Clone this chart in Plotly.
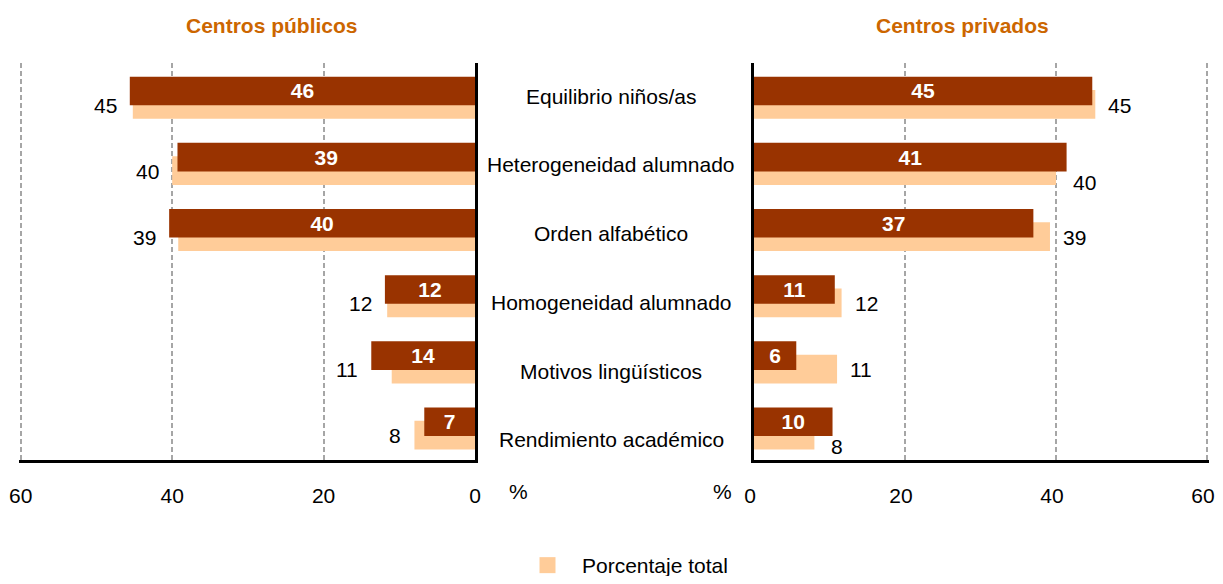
import plotly.graph_objects as go

categories = ["Equilibrio niños/as", "Heterogeneidad alumnado", "Orden alfabético",
              "Homogeneidad alumnado", "Motivos lingüísticos", "Rendimiento académico"]
publicos = [45.6, 39.3, 40.4, 11.9, 13.7, 6.7]
privados = [44.8, 41.4, 37.0, 10.7, 5.6, 10.4]
total = [45.2, 40.0, 39.2, 11.6, 11.0, 8.0]
x_ticks = [0, 20, 40, 60]

DARK = "#993300"
LIGHT = "#FFCC99"
ORANGE = "#CC6600"
FONT = "Liberation Sans, Arial, sans-serif"
FS = 21
# the page body has an 8px margin; size the figure so the page never overflows the window
OFF = 8
W, H = 1223 - 2 * OFF, 584 - 2 * OFF


def px(x):
    return (x - OFF) / W


def py(y):
    return 1 - (y - OFF) / H


fig = go.Figure()


def add_panel(values, xa, ya, name_dark):
    # light (total) bars first, dark on top
    fig.add_trace(go.Bar(
        y=categories, x=total, orientation="h", xaxis=xa, yaxis=ya,
        marker=dict(color=LIGHT, line=dict(width=0)),
        offset=-0.092, width=0.434, showlegend=False,
        name="Porcentaje total"))
    fig.add_trace(go.Bar(
        y=categories, x=values, orientation="h", xaxis=xa, yaxis=ya,
        marker=dict(color=DARK, line=dict(width=0)),
        offset=-0.293, width=0.432, showlegend=False,
        texttemplate="<b>%{x:.0f}</b>", textposition="inside", textangle=0,
        insidetextanchor="middle", constraintext="none",
        textfont=dict(color="white", size=FS, family=FONT),
        name=name_dark))


add_panel(publicos, "x", "y", "Centros públicos")
add_panel(privados, "x2", "y2", "Centros privados")

# legend entry
fig.add_trace(go.Scatter(x=[None], y=[None], mode="markers", name="Porcentaje total",
                         marker=dict(symbol="square", size=20, color=LIGHT),
                         showlegend=True, xaxis="x", yaxis="y"))

xcommon = dict(tickvals=x_ticks, ticktext=[str(v) for v in x_ticks], showgrid=True,
               gridcolor="#A6A6A6", gridwidth=1.5, griddash="5px,3px",
               zeroline=False, showline=True, linecolor="black", linewidth=2.5,
               ticks="", ticklabelstandoff=15,
               tickfont=dict(size=FS, family=FONT, color="black"), fixedrange=True)
ycommon = dict(type="category", categoryorder="array", categoryarray=categories,
               range=[5.5, -0.5], showgrid=False, showticklabels=False, ticks="",
               zeroline=False, showline=True, linecolor="black", linewidth=2.5,
               domain=[py(460), py(63)], fixedrange=True)

fig.update_layout(
    width=W, height=H,
    margin=dict(l=0, r=0, t=0, b=0, autoexpand=False),
    paper_bgcolor="white", plot_bgcolor="white",
    barmode="overlay",
    font=dict(family=FONT, size=FS, color="black"),
    xaxis=dict(domain=[px(18.5), px(475)], range=[60.3, 0], anchor="y", **xcommon),
    xaxis2=dict(domain=[px(754), px(1209.3)], range=[0, 60.3], anchor="y2",
                ticklabelshift=-4, **xcommon),
    yaxis=dict(anchor="x", side="right", **ycommon),
    yaxis2=dict(anchor="x2", side="left", **ycommon),
    legend=dict(x=px(513), y=py(545), xanchor="left", yanchor="top",
                font=dict(size=FS, family=FONT, color="black"), itemwidth=59,
                bgcolor="rgba(0,0,0,0)", itemsizing="trace"),
    showlegend=True,
)

ann = []
txt = dict(showarrow=False, xanchor="center", yanchor="middle")
# panel titles
ann.append(dict(text="<b>Centros públicos</b>", x=px(271.5), y=py(26),
                xref="paper", yref="paper", font=dict(color=ORANGE, size=FS, family=FONT), **txt))
ann.append(dict(text="<b>Centros privados</b>", x=px(962.5), y=py(26),
                xref="paper", yref="paper", font=dict(color=ORANGE, size=FS, family=FONT), **txt))
# % units
ann.append(dict(text="%", x=px(518), y=py(491), xref="paper", yref="paper",
                font=dict(size=FS, family=FONT), **txt))
ann.append(dict(text="%", x=px(722), y=py(491), xref="paper", yref="paper",
                font=dict(size=FS, family=FONT), **txt))
# category labels in the middle
for i, c in enumerate(categories):
    ann.append(dict(text=c, x=px(611), xref="paper", y=c, yref="y",
                    yshift=-2.6 * i, font=dict(size=FS, family=FONT), **txt))
# total labels outside the bars
for c, v, p, q in zip(categories, total, publicos, privados):
    ann.append(dict(text=f"{v:.0f}", x=max(v, p), y=c, xref="x", yref="y",
                    xanchor="right", yanchor="middle", showarrow=False,
                    xshift=-11, yshift=-9, font=dict(size=FS, family=FONT)))
    below = q > v
    ann.append(dict(text=f"{v:.0f}", x=v, y=c, xref="x2", yref="y2",
                    xanchor="left", yanchor="middle", showarrow=False,
                    xshift=15 if below else 11, yshift=-20 if below else -9,
                    font=dict(size=FS, family=FONT)))
fig.update_layout(annotations=ann)

fig.write_html("out.html")
